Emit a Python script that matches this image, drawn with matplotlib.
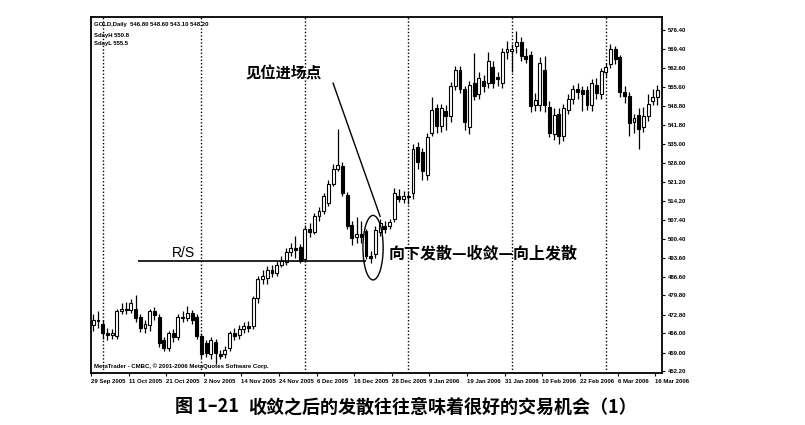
import matplotlib.pyplot as plt
from matplotlib.patches import Ellipse

plt.rcParams['font.family'] = ['Noto Sans CJK SC', 'DejaVu Sans']

# GOLD daily candles, 29 Sep 2005 .. 16 Mar 2006
opens = [469.0, 471.0, 469.5, 466.0, 465.5, 465.0, 474.0, 475.0, 474.5, 475.0,
         472.0, 468.0, 469.0, 474.0, 472.0, 463.5, 460.5, 466.0, 464.5, 472.0,
         471.5, 473.5, 472.0, 465.0, 462.5, 458.5, 463.0, 458.5, 458.3, 460.5,
         466.0, 465.5, 467.5, 468.5, 468.5, 478.8, 485.7, 486.0, 489.0, 488.0,
         491.0, 492.0, 495.5, 497.0, 497.5, 493.0, 504.0, 503.0, 508.6, 510.5,
         513.5, 520.5, 526.0, 527.0, 516.5, 505.5, 501.0, 502.0, 503.2, 494.1,
         495.0, 503.0, 505.0, 505.0, 507.5, 516.0, 515.0, 516.0, 517.0, 534.0,
         532.0, 523.5, 539.0, 548.0, 541.5, 547.0, 545.0, 556.0, 562.0, 555.0,
         541.0, 557.0, 553.0, 558.0, 557.0, 563.0, 559.5, 557.0, 568.5, 569.0,
         570.5, 572.0, 567.0, 567.5, 549.0, 549.0, 562.0, 548.5, 538.5, 546.0,
         538.0, 547.5, 551.5, 555.0, 554.5, 554.5, 549.0, 556.5, 553.0, 561.0,
         564.0, 569.5, 566.5, 554.0, 552.5, 543.0, 545.5, 541.0, 545.0, 550.5,
         552.0]
highs = [473.0, 474.0, 471.0, 468.0, 467.5, 475.0, 477.0, 477.5, 478.5, 480.0,
         473.0, 471.0, 475.0, 475.5, 473.0, 464.5, 467.0, 467.5, 473.0, 474.0,
         476.0, 474.5, 473.0, 466.0, 463.5, 464.5, 464.0, 460.0, 461.5, 467.0,
         468.0, 469.0, 470.0, 470.5, 479.5, 487.0, 489.0, 490.5, 491.0, 492.5,
         494.0, 497.0, 499.0, 501.5, 498.5, 505.5, 506.0, 510.0, 512.0, 517.0,
         522.0, 527.5, 540.3, 528.5, 517.5, 507.0, 508.5, 507.0, 504.0, 496.0,
         505.0, 507.5, 507.0, 507.5, 519.0, 518.5, 518.0, 518.0, 535.0, 535.5,
         533.5, 539.0, 552.0, 549.5, 549.5, 549.0, 557.5, 563.5, 563.5, 556.0,
         558.0, 568.0, 561.0, 560.0, 568.5, 565.0, 561.0, 570.0, 572.5, 571.5,
         576.0, 574.0, 570.0, 569.0, 553.5, 566.5, 567.0, 550.5, 548.0, 548.0,
         549.5, 553.0, 556.5, 557.0, 556.0, 556.0, 558.5, 559.0, 562.5, 564.5,
         571.5, 570.5, 567.5, 556.0, 554.0, 546.0, 548.0, 548.5, 553.0, 555.0,
         556.5]
lows = [467.0, 468.0, 464.0, 463.5, 464.0, 464.0, 473.0, 473.0, 473.5, 470.0,
        466.5, 466.0, 467.0, 471.0, 461.0, 459.5, 459.5, 463.0, 463.5, 470.0,
        470.5, 469.5, 464.0, 457.0, 457.5, 456.5, 455.0, 456.5, 457.0, 459.5,
        463.5, 464.0, 466.0, 466.5, 467.5, 477.0, 484.0, 484.0, 486.5, 487.0,
        490.0, 491.0, 494.0, 493.5, 491.5, 492.0, 501.0, 502.0, 507.0, 509.5,
        512.5, 519.5, 525.0, 516.0, 504.0, 498.0, 499.0, 499.0, 493.0, 491.5,
        493.5, 501.5, 502.5, 504.0, 506.5, 514.0, 513.5, 513.0, 515.0, 526.0,
        522.0, 522.0, 538.0, 539.0, 539.5, 540.0, 543.0, 554.5, 553.5, 540.0,
        538.5, 551.0, 551.5, 554.0, 555.5, 555.5, 556.0, 555.5, 566.0, 561.0,
        568.0, 565.0, 564.5, 546.5, 547.0, 547.0, 546.5, 537.5, 536.5, 534.8,
        536.0, 546.0, 549.5, 551.5, 547.0, 547.5, 547.0, 551.5, 551.5, 559.5,
        562.5, 564.0, 552.0, 550.0, 538.0, 539.0, 533.0, 539.5, 543.5, 549.0,
        549.0]
closes = [471.0, 470.5, 466.0, 465.5, 466.0, 474.0, 475.0, 474.5, 477.0, 471.5,
          468.0, 469.5, 474.0, 472.5, 462.5, 460.5, 466.0, 464.5, 472.0, 471.5,
          473.5, 471.0, 465.0, 458.5, 459.0, 463.5, 459.0, 457.8, 460.0, 466.0,
          465.0, 467.5, 468.5, 468.0, 478.8, 485.7, 486.8, 489.0, 488.0, 491.0,
          492.5, 495.5, 497.0, 496.5, 492.5, 504.0, 503.0, 508.6, 510.6, 515.9,
          520.5, 525.8, 527.2, 517.0, 505.0, 500.7, 502.0, 501.0, 494.1, 493.5,
          503.6, 506.0, 504.0, 506.5, 517.0, 515.0, 516.0, 515.5, 533.0, 528.5,
          525.0, 537.5, 547.5, 541.5, 548.0, 545.0, 556.0, 562.0, 555.0, 543.0,
          556.5, 552.5, 559.0, 556.0, 565.0, 557.0, 558.5, 568.5, 569.5, 569.5,
          572.0, 567.0, 566.0, 548.7, 551.0, 564.5, 549.0, 539.0, 545.5, 538.0,
          548.0, 551.5, 555.0, 554.0, 553.0, 549.0, 557.0, 553.5, 561.5, 563.0,
          569.5, 566.0, 554.0, 552.5, 542.5, 544.5, 540.5, 545.0, 549.5, 552.0,
          554.5]

date_labels = ['29 Sep 2005', '11 Oct 2005', '21 Oct 2005', '2 Nov 2005',
               '14 Nov 2005', '24 Nov 2005', '6 Dec 2005', '16 Dec 2005',
               '28 Dec 2005', '9 Jan 2006', '19 Jan 2006', '31 Jan 2006',
               '10 Feb 2006', '22 Feb 2006', '6 Mar 2006', '16 Mar 2006']
date_pos = list(range(0, 121, 8))
month_starts = [2, 23, 45, 67, 89, 109]
price_ticks = [452.20, 459.00, 466.00, 472.80, 479.80, 486.60, 493.60, 500.40,
               507.40, 514.20, 521.20, 528.00, 535.00, 541.80, 548.80, 555.60,
               562.60, 569.40, 576.40]
rs_level = 492.3

small = dict(fontsize=4.3, fontweight='bold', family='Liberation Sans')

fig = plt.figure(figsize=(8.05, 4.25), dpi=100)
ax = fig.add_axes([0.113, 0.122, 0.709, 0.838])

# month separators
for m in month_starts:
    ax.axvline(m, color='black', linestyle=(0, (1, 1.5)), linewidth=1.0, zorder=1)

# candles
for i in range(len(opens)):
    o, h, l, c = opens[i], highs[i], lows[i], closes[i]
    ax.vlines(i, l, h, color='black', linewidth=0.9, zorder=2)
    body_low = min(o, c)
    body_h = max(abs(c - o), 0.4)
    face = 'white' if c >= o else 'black'
    ax.bar(i, body_h, bottom=body_low, width=0.62, color=face,
           edgecolor='black', linewidth=0.8, zorder=3)

# R/S line and label
ax.hlines(rs_level, 9.5, 57.9, color='black', linewidth=1.2, zorder=4)
ax.text(19.2, 495.4, 'R/S', fontsize=10, family='Liberation Sans',
        ha='center', va='center')

# entry-point annotation
ax.add_patch(Ellipse((59.5, 497.2), 4.3, 23.5, fill=False,
                     edgecolor='black', linewidth=1.0, zorder=5))
ax.plot([51.0, 61.0], [557.1, 508.6], color='black', linewidth=1.0, zorder=5)
ax.text(32.4, 560.7, '见位进场点', fontsize=11, fontweight='bold',
        ha='left', va='center')
ax.text(62.8, 495.0, '向下发散—收敛—向上发散', fontsize=11.5, fontweight='bold',
        ha='left', va='center')

# terminal texts
ax.text(0.005, 0.985, 'GOLD,Daily  546.80 548.60 543.10 548.20',
        transform=ax.transAxes, va='top', **small)
ax.text(0.005, 0.955, 'SdayH 550.8', transform=ax.transAxes, va='top', **small)
ax.text(0.005, 0.933, 'SdayL 555.5', transform=ax.transAxes, va='top', **small)
ax.text(0.005, 0.012, 'MetaTrader - CMBC, \u00a9 2001-2006 MetaQuotes Software Corp.',
        transform=ax.transAxes, va='bottom', **small)

ax.set_xlim(-0.35, 120.9)
ax.set_ylim(451.5, 581.2)

ax.yaxis.tick_right()
ax.set_yticks(price_ticks)
ax.set_yticklabels(['%.2f' % p for p in price_ticks], **small)
ax.tick_params(axis='y', length=2.5, width=0.8, pad=2)

ax.set_xticks([p - 0.5 for p in date_pos])
ax.set_xticklabels(date_labels, ha='left', **small)
ax.tick_params(axis='x', length=2, width=0.8, pad=2)

for s in ax.spines.values():
    s.set_linewidth(1.3)

fig.text(175 / 805, 1 - 407 / 425, '图 1–21', fontsize=13, fontweight='bold',
         ha='left', va='center')
fig.text(248 / 805, 1 - 407 / 425, '收敛之后的发散往往意味着很好的交易机会（1）',
         fontsize=13, fontweight='bold', ha='left', va='center')

fig.savefig('out.png', dpi=100, facecolor='white')
